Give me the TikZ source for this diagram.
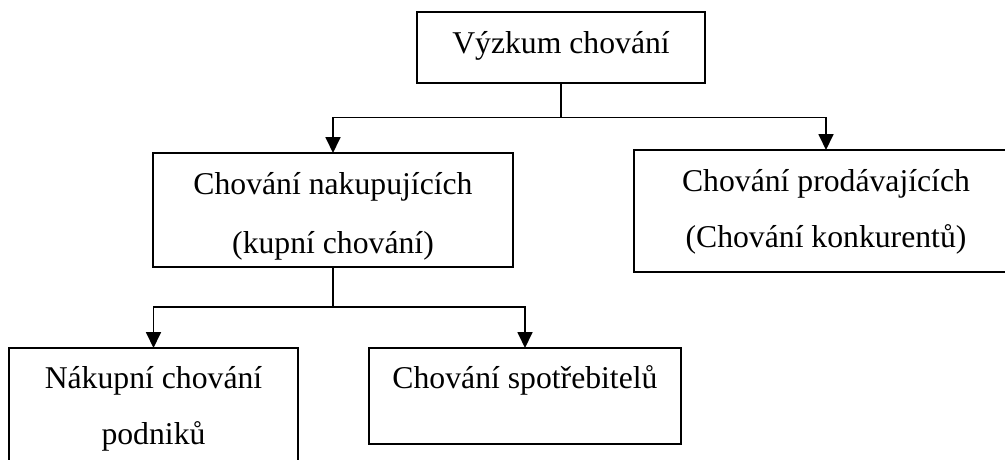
\documentclass[tikz,border=0pt]{standalone}
\usepackage{fontspec}
\setmainfont{Liberation Serif}
\usetikzlibrary{arrows.meta}
\begin{document}
\begin{tikzpicture}[x=1pt,y=-1pt,
  box/.style={draw,line width=1.8pt,outer sep=0pt,inner sep=0pt},
  lbl/.style={anchor=base,inner sep=0pt,font=\fontsize{31.7}{38}\selectfont},
  conn/.style={line width=1.8pt},
  arr/.style={line width=1.8pt,-{Triangle[length=16pt,width=15pt]}}]
\useasboundingbox (0,0) rectangle (1005,459);
\clip (0,0) rectangle (1005,459);
% boxes
\node[box,minimum width=288pt,minimum height=71pt] (b1) at (561,47.5) {};
\node[box,minimum width=360pt,minimum height=114pt] (b2) at (333,210) {};
\node[box,minimum width=384pt,minimum height=122pt] (b3) at (826,211) {};
\node[box,minimum width=289pt,minimum height=124pt] (b4) at (153.5,410) {};
\node[box,minimum width=312pt,minimum height=96pt] (b5) at (525,396) {};
% labels
\node[lbl] (t1) at (561,53) {Výzkum chování};
\node[lbl] (t2a) at (333,194) {Chování nakupujících};
\node[lbl] (t2b) at (333,253) {(kupní chování)};
\node[lbl] (t3a) at (826,191) {Chování prodávajících};
\node[lbl] (t3b) at (826,247) {(Chování konkurentů)};
\node[lbl] (t4a) at (153.5,388) {Nákupní chování};
\node[lbl] (t4b) at (153.5,444) {podniků};
\node[lbl] (t5) at (525,388) {Chování spotřebitelů};
% connectors
\coordinate (j1) at (561,117.5);
\coordinate (j2) at (333,307);
\draw[conn] (b1.south) -- (j1);
\draw[arr] (j1) -| (b2.north);
\draw[arr] (j1) -| (b3.north);
\draw[conn] (b2.south) -- (j2);
\draw[arr] (j2) -| (b4.north);
\draw[arr] (j2) -| (b5.north);
\end{tikzpicture}
\end{document}
